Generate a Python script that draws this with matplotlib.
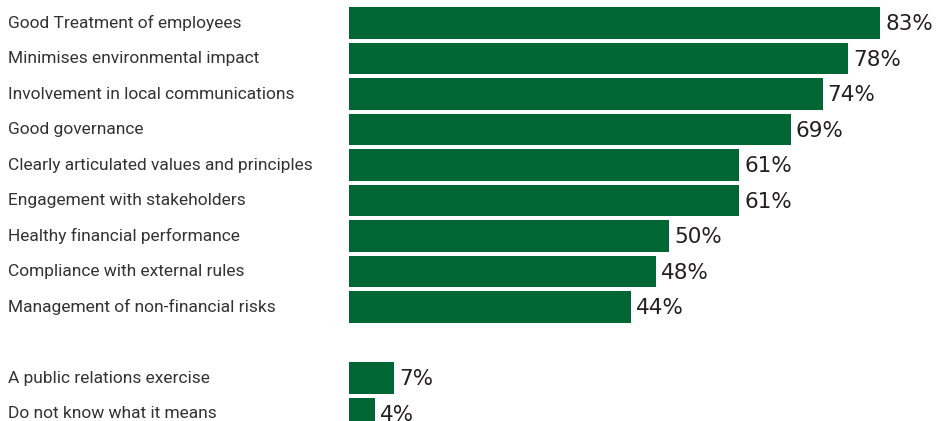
import matplotlib
matplotlib.use("Agg")
import matplotlib.pyplot as plt
from matplotlib.transforms import blended_transform_factory

categories = [
    "Good Treatment of employees",
    "Minimises environmental impact",
    "Involvement in local communications",
    "Good governance",
    "Clearly articulated values and principles",
    "Engagement with stakeholders",
    "Healthy financial performance",
    "Compliance with external rules",
    "Management of non-financial risks",
    "A public relations exercise",
    "Do not know what it means",
]
values = [83, 78, 74, 69, 61, 61, 50, 48, 44, 7, 4]
value_labels = ["83%", "78%", "74%", "69%", "61%", "61%", "50%", "48%", "44%", "7%", "4%"]
# row slots: the last two answers sit after a blank slot
rows = [0, 1, 2, 3, 4, 5, 6, 7, 8, 10, 11]

label_font = "Roboto"
value_font = "DejaVu Sans"

green = "#006633"
W, H = 941, 421
fig = plt.figure(figsize=(W / 100, H / 100), dpi=100)
left_px = 349
ax = fig.add_axes([left_px / W, 0, 1 - left_px / W, 1])

pitch = 35.5
ax.set_ylim((H - 23) / pitch, -23 / pitch)
ax.set_xlim(0, (W - left_px) / 6.4)
ax.barh(rows, values, height=0.9, color=green)

for r, v, t in zip(rows, values, value_labels):
    ax.text(v + 0.8, r + 0.03, t, va="center", ha="left", fontsize=15.5,
            family=value_font, color="#231f20")

# category labels, sized so the longest one fits the space left of the bars
label_tr = blended_transform_factory(fig.transFigure, ax.transData)
label_texts = [fig.text(8 / W, r, c, transform=label_tr, fontsize=12,
                        family=label_font, color="#333333",
                        va="center", ha="left")
               for r, c in zip(rows, categories)]
renderer = fig.canvas.get_renderer()
widest = max(t.get_window_extent(renderer).width for t in label_texts)
size = min(14, 12 * 305 / widest)
for t in label_texts:
    t.set_fontsize(size)

ax.axis("off")
fig.savefig("out.png", dpi=100)
